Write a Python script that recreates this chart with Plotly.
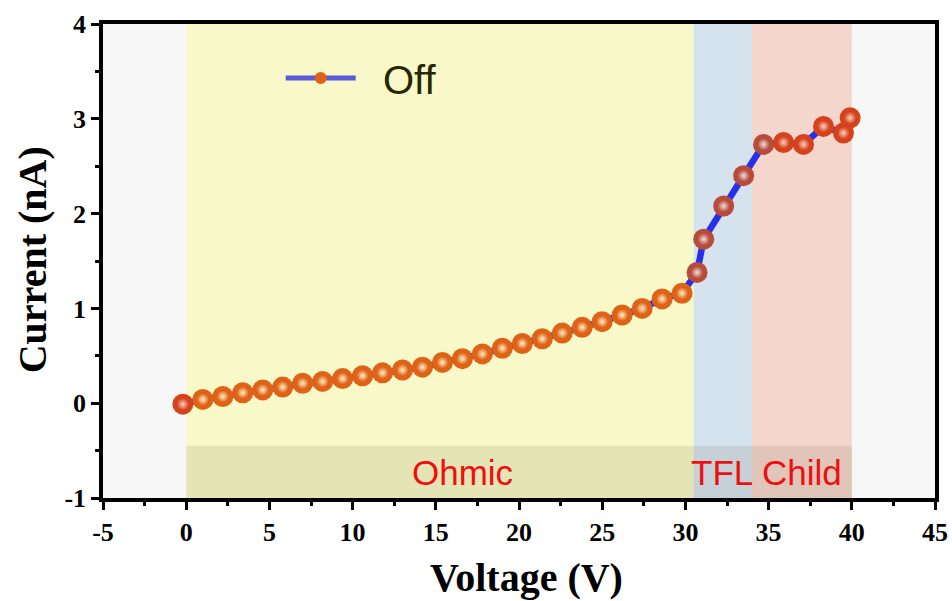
import plotly.graph_objects as go

# ---------------- data ----------------
voltage = [-0.2, 1.0, 2.2, 3.4, 4.6, 5.8, 7.0, 8.2, 9.4, 10.6, 11.8, 13.0, 14.2,
           15.4, 16.6, 17.8, 19.0, 20.2, 21.4, 22.6, 23.8, 25.0, 26.2, 27.4, 28.6,
           29.8, 30.7, 31.1, 32.3, 33.5, 34.7, 35.9, 37.1, 38.3, 39.5, 39.9]
current = [-0.01, 0.04, 0.07, 0.11, 0.14, 0.17, 0.21, 0.23, 0.26, 0.29, 0.32,
           0.35, 0.38, 0.43, 0.47, 0.52, 0.58, 0.63, 0.68, 0.74, 0.80, 0.86,
           0.93, 1.00, 1.10, 1.16, 1.38, 1.73, 2.08, 2.40, 2.73, 2.75, 2.73,
           2.92, 2.85, 3.01]
# marker colour group for each point: 0 = red, 1 = orange, 2 = brown
point_group = [0] + [1] * 25 + [2, 2, 2, 2, 2] + [0] * 5

region_names = ["Ohmic", "TFL", "Child"]
region_edges = [0, 30.5, 34, 40]
region_colors = ["#f8f8c8", "#d5e3ee", "#f4d6cc"]
label_x = [16.6, 32.2, 37.0]
label_y = [-0.73, -0.73, -0.73]
band_top = -0.45

x_ticks = [-5, 0, 5, 10, 15, 20, 25, 30, 35, 40, 45]
x_ticktext = ["-5", "0", "5", "10", "15", "20", "25", "30", "35", "40", "45"]
y_ticks = [-1, 0, 1, 2, 3, 4]
y_ticktext = ["-1", "0", "1", "2", "3", "4"]

# ---------------- styles ----------------
base_col = {0: "#d6421c", 1: "#df6216", 2: "#b84c3c"}
hl_col = {0: "#f9d0c4", 1: "#fff0c8", 2: "#f0dede"}
line_col = "rgb(38,48,236)"
serif = "Liberation Serif, Times New Roman, serif"
sans = "Liberation Sans, Arial, sans-serif"

fig = go.Figure()

# background regions
for i in range(len(region_names)):
    fig.add_shape(type="rect", xref="x", yref="y", layer="below",
                  x0=region_edges[i], x1=region_edges[i + 1], y0=-1, y1=4,
                  fillcolor=region_colors[i], line_width=0)
fig.add_shape(type="rect", xref="x", yref="y", layer="below",
              x0=region_edges[0], x1=region_edges[-1], y0=-1, y1=band_top,
              fillcolor="rgba(40,40,0,0.095)", line_width=0)

for name, lx, ly in zip(region_names, label_x, label_y):
    fig.add_annotation(x=lx, y=ly, xref="x", yref="y", text=name,
                       showarrow=False,
                       font=dict(family=sans, size=35, color="#ee1010"))

# main curve
fig.add_trace(go.Scatter(
    x=voltage, y=current, mode="lines+markers", showlegend=False,
    line=dict(color=line_col, width=6.5),
    marker=dict(size=21, color=[base_col[g] for g in point_group],
                line=dict(width=0)),
))
# sphere highlight
fig.add_trace(go.Scatter(
    x=voltage, y=current, mode="markers", showlegend=False, hoverinfo="skip",
    marker=dict(size=12, color=[base_col[g] for g in point_group],
                gradient=dict(type="radial",
                              color=[hl_col[g] for g in point_group]),
                line=dict(width=0)),
))
# legend entry
fig.add_trace(go.Scatter(
    x=[None], y=[None], mode="lines+markers", name="\u00a0\u00a0Off",
    line=dict(color="#5a5ad8", width=6),
    marker=dict(size=14, color="#df6216", line=dict(width=0)),
))

axis_common = dict(
    showline=True, linecolor="black", linewidth=3.5, mirror=True,
    ticks="outside", ticklen=8, tickwidth=3, tickcolor="black",
    showgrid=False, zeroline=False, automargin=False,
    tickfont=dict(family=serif, size=26, color="black", weight="bold"),
)

fig.update_xaxes(range=[-5, 45], tickvals=x_ticks, ticktext=x_ticktext,
                 minor=dict(ticks="outside", ticklen=4, tickwidth=3,
                            tickcolor="black", dtick=2.5, tick0=-5),
                 **axis_common)
fig.update_yaxes(range=[-1, 4], tickvals=y_ticks, ticktext=y_ticktext,
                 minor=dict(ticks="outside", ticklen=4, tickwidth=3,
                            tickcolor="black", dtick=0.5, tick0=-1),
                 **axis_common)

title_font = dict(family=serif, size=40, color="black", weight="bold")
fig.add_annotation(text="Voltage (V)", xref="paper", yref="paper",
                   x=0.5094, y=-0.168, xanchor="center", yanchor="middle",
                   showarrow=False, font=title_font)
fig.add_annotation(text="Current (nA)", xref="paper", yref="paper",
                   x=-0.085, y=0.5021, xanchor="center", yanchor="middle",
                   textangle=-90, showarrow=False, font=title_font)

fig.update_layout(
    width=952, height=601,
    margin=dict(l=103, r=17, t=24, b=103),
    paper_bgcolor="white", plot_bgcolor="#f7f7f7",
    legend=dict(x=0.2136, y=0.886, xanchor="left", yanchor="middle",
                bgcolor="rgba(0,0,0,0)", itemsizing="constant",
                itemwidth=70,
                font=dict(family=sans, size=40, color="#262600")),
)

fig.write_html("out.html")
